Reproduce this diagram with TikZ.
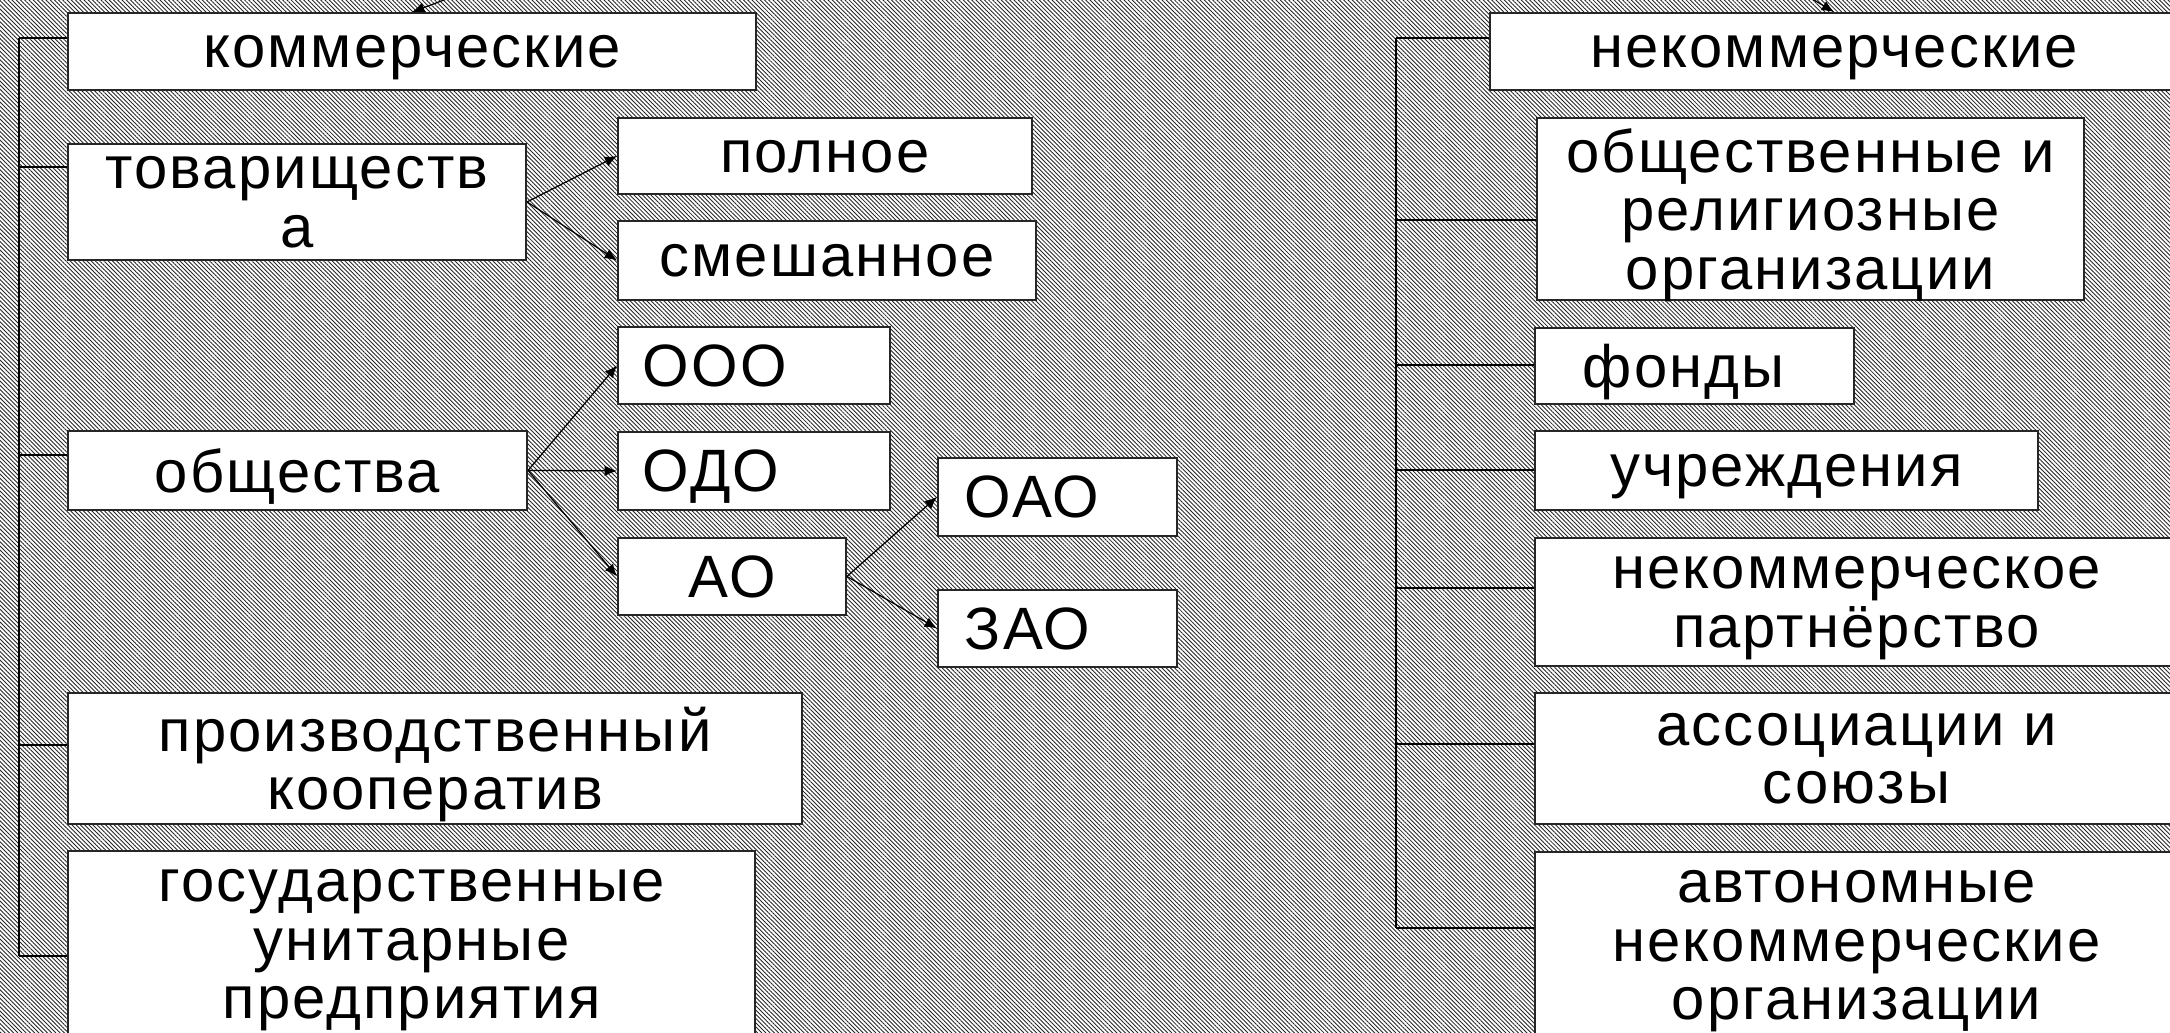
\documentclass[tikz,border=0pt]{standalone}
\usepackage{fontspec}
\setmainfont{Liberation Sans}[LetterSpace=3.5]
\usetikzlibrary{patterns.meta,arrows.meta,calc}
\newcommand{\fnt}{\fontsize{17pt}{16.6pt}\selectfont}
\begin{document}
\begin{tikzpicture}[x=0.01cm, y=-0.01cm,
  box/.style={draw=black!85, line width=0.5pt, fill=white, inner sep=0pt,
    font=\fnt, align=center, anchor=north west, text depth=0pt},
  conn/.style={line width=0.5pt, draw=black},
  arr/.style={line width=0.35pt, draw=black, -{Latex[length=3.5pt,width=3pt]}}]
\useasboundingbox (0,0) rectangle (2170,1032);
\clip (0,0) rectangle (2170,1032);
\fill[white] (0,0) rectangle (2170,1032);
\fill[pattern={Lines[angle=-45,distance=0.85pt,line width=0.25pt]}, pattern color=black!85]
  (0,0) rectangle (2170,1032);

% left column
\node[box, minimum width=6.88cm, minimum height=0.77cm] (kom) at (67,12) {коммерческие};
\node[box, minimum width=4.58cm, minimum height=1.16cm] (tov) at (67,143) {товариществ\\а};
\node[box, minimum width=4.14cm, minimum height=0.76cm] (pol) at (617,117) {полное};
\node[box, minimum width=4.18cm, minimum height=0.79cm] (sme) at (617,220) {смешанное};
\node[box, minimum width=4.59cm, minimum height=0.79cm] (obsh) at (67,430) {общества};
\node[box, align=left, inner xsep=0.25cm, text width=2.22cm, minimum height=0.77cm] (ooo) at (617,326) {ООО};
\node[box, align=left, inner xsep=0.25cm, text width=2.22cm, minimum height=0.78cm] (odo) at (617,431) {ОДО};
\node[box, minimum width=2.28cm, minimum height=0.77cm] (ao) at (617,537) {АО};
\node[box, align=left, inner xsep=0.27cm, text width=1.85cm, minimum height=0.78cm] (oao) at (937,457) {ОАО};
\node[box, align=left, inner xsep=0.27cm, text width=1.85cm, minimum height=0.77cm] (zao) at (937,589) {ЗАО};
\node[box, minimum width=7.34cm, minimum height=1.31cm] (prod) at (67,692) {производственный\\кооператив};
\node[box, minimum width=6.87cm, minimum height=1.86cm] (gos) at (67,850) {государственные\\унитарные\\предприятия};

% right column
\node[box, minimum width=6.88cm, minimum height=0.77cm] (nekom) at (1489,12) {некоммерческие};
\node[box, minimum width=5.47cm, minimum height=1.82cm] (obrel) at (1536,117) {общественные и\\религиозные\\организации};
\node[box, align=left, inner xsep=0.48cm, text width=2.23cm, minimum height=0.76cm] (fond) at (1534,327) {фонды};
\node[box, minimum width=5.03cm, minimum height=0.79cm] (uchr) at (1534,430) {учреждения};
\node[box, minimum width=6.43cm, minimum height=1.28cm] (nkp) at (1534,537) {некоммерческое\\партнёрство};
\node[box, minimum width=6.43cm, minimum height=1.31cm] (assoc) at (1534,692) {ассоциации и\\союзы};
\node[box, minimum width=6.43cm, minimum height=1.86cm] (avt) at (1534,851) {автономные\\некоммерческие\\организации};

% trunks and branches, left
\coordinate (lt1) at (19,38);
\coordinate (lt2) at (19,167);
\coordinate (lt3) at (19,455);
\coordinate (lt4) at (19,745);
\coordinate (lt5) at (19,956);
\draw[conn] (lt1) -- (lt5);
\draw[conn] (lt1) -- (lt1 -| kom.west);
\draw[conn] (lt2) -- (lt2 -| tov.west);
\draw[conn] (lt3) -- (lt3 -| obsh.west);
\draw[conn] (lt4) -- (lt4 -| prod.west);
\draw[conn] (lt5) -- (lt5 -| gos.west);

% trunks and branches, right
\coordinate (rt1) at (1396,38);
\coordinate (rt2) at (1396,220);
\coordinate (rt3) at (1396,365);
\coordinate (rt4) at (1396,470);
\coordinate (rt5) at (1396,588);
\coordinate (rt6) at (1396,744);
\coordinate (rt7) at (1396,928);
\draw[conn] (rt1) -- (rt7);
\draw[conn] (rt1) -- (rt1 -| nekom.west);
\draw[conn] (rt2) -- (rt2 -| obrel.west);
\draw[conn] (rt3) -- (rt3 -| fond.west);
\draw[conn] (rt4) -- (rt4 -| uchr.west);
\draw[conn] (rt5) -- (rt5 -| nkp.west);
\draw[conn] (rt6) -- (rt6 -| assoc.west);
\draw[conn] (rt7) -- (rt7 -| avt.west);

% arrows
\draw[arr] (tov.east) -- (pol.west);
\draw[arr] (tov.east) -- (sme.west);
\draw[arr] (obsh.east) -- (ooo.west);
\draw[arr] (obsh.east) -- (odo.west);
\draw[arr] (obsh.east) -- (ao.west);
\draw[arr] (ao.east) -- (oao.west);
\draw[arr] (ao.east) -- (zao.west);

% arrows from the parent above (outside the picture)
\coordinate (srcL) at (635,-72);
\coordinate (srcR) at (1693,-72);
\draw[arr] (srcL) -- (kom.north);
\draw[arr] (srcR) -- (nekom.north);
\end{tikzpicture}
\end{document}
